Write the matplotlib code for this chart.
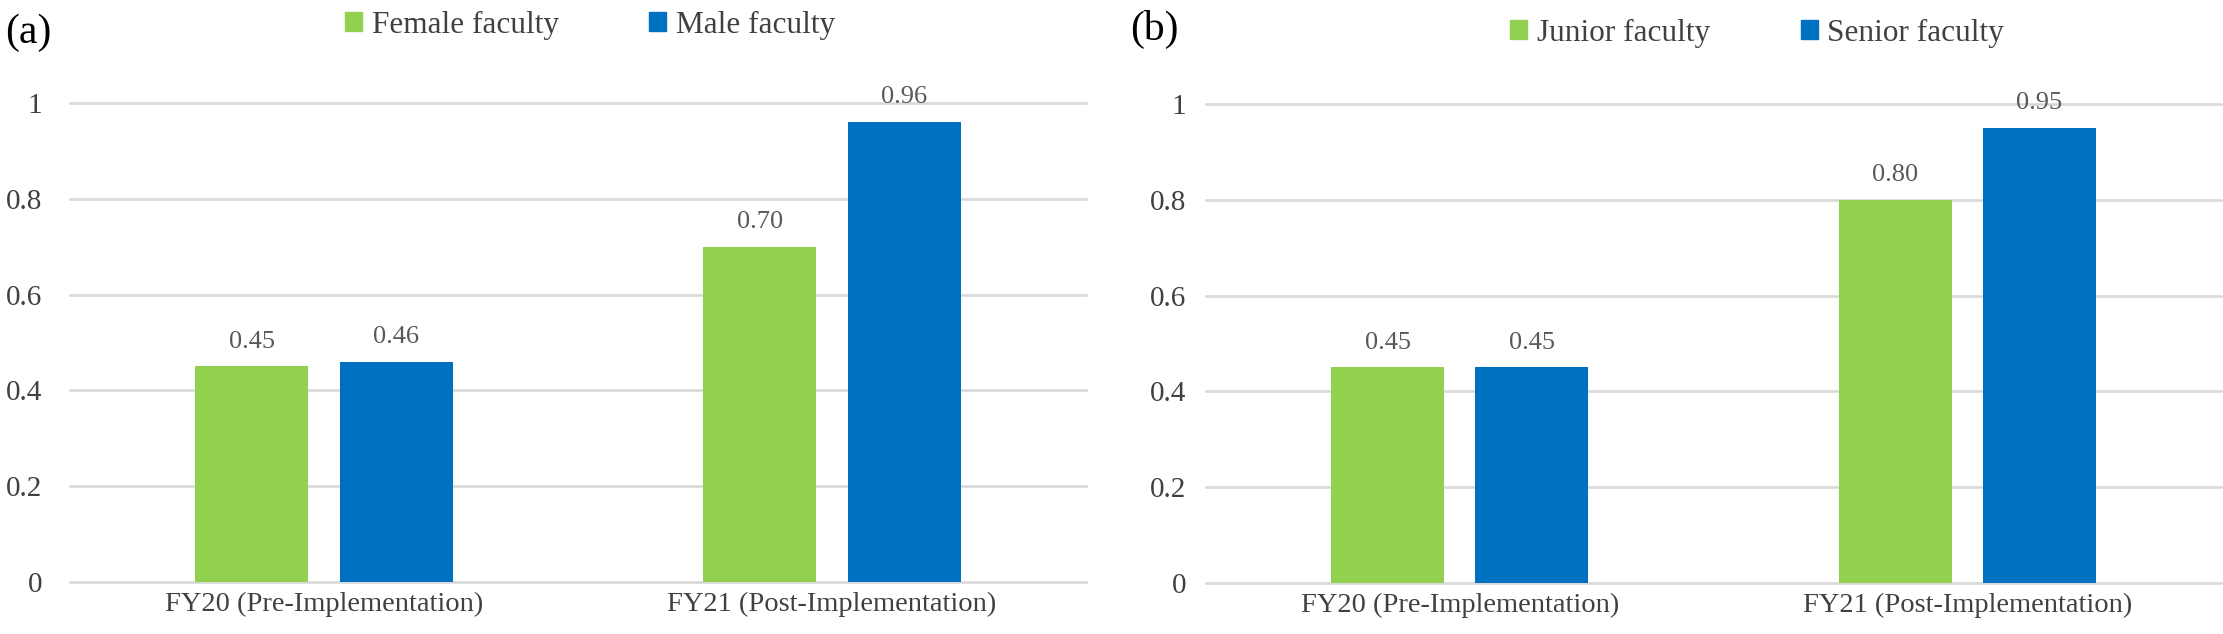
import numpy as np
import matplotlib
matplotlib.use('Agg')
import matplotlib.pyplot as plt
from matplotlib.patches import Patch

plt.rcParams['font.family'] = ['Liberation Serif', 'DejaVu Serif']

categories = ['FY20 (Pre-Implementation)', 'FY21 (Post-Implementation)']

# panel (a)
female = [0.45, 0.70]
male = [0.46, 0.96]
# panel (b)
junior = [0.45, 0.80]
senior = [0.45, 0.95]

panels = [
    ('(a)', ['Female faculty', 'Male faculty'], [female, male]),
    ('(b)', ['Junior faculty', 'Senior faculty'], [junior, senior]),
]

green = '#92D050'
blue = '#0070C0'
grid_c = '#D9D9D9'
text_c = '#404040'
val_c = '#595959'

W, H = 2223, 634
fig = plt.figure(figsize=(W / 100, H / 100), dpi=100)

# axes boxes in pixels: left, right, y of 0, y of 1
boxes = [(70, 1086, 582, 103), (1206, 2221, 583, 104)]
ypads = [20, 14]
label_pos = [(5, 13), (1130, 10)]
legend_pos = [(590, 25), (1757, 33)]

x = np.arange(len(categories))
w = 0.222
off = 0.142

for i, (tag, names, series) in enumerate(panels):
    l, r, y0, y1 = boxes[i]
    ax = fig.add_axes([l / W, (H - y0) / H, (r - l) / W, (y0 - y1) / H])
    bars1 = ax.bar(x - off, series[0], w, color=green, zorder=3)
    bars2 = ax.bar(x + off, series[1], w, color=blue, zorder=3)
    for bars in (bars1, bars2):
        for b in bars:
            ax.annotate(f'{b.get_height():.2f}', (b.get_x() + b.get_width() / 2, b.get_height()),
                        xytext=(0, 10), textcoords='offset points', ha='center', va='bottom',
                        fontsize=19, color=val_c, annotation_clip=False)
    ax.set_xlim(-0.5, 1.5)
    ax.set_ylim(0, 1)
    ax.set_yticks([0, 0.2, 0.4, 0.6, 0.8, 1])
    ax.set_yticklabels(['0', '0.2', '0.4', '0.6', '0.8', '1'])
    ax.set_xticks(x)
    ax.set_xticklabels(categories)
    ax.tick_params(axis='y', length=0, pad=ypads[i], labelsize=21, labelcolor=text_c)
    ax.tick_params(axis='x', length=0, pad=7, labelsize=20.5, labelcolor=text_c)
    ax.grid(axis='y', color=grid_c, linewidth=1.9, zorder=0)
    ax.set_axisbelow(True)
    for s in ax.spines.values():
        s.set_visible(False)
    for gl in ax.get_ygridlines():
        gl.set_clip_on(False)

    fig.text(label_pos[i][0] / W, 1 - label_pos[i][1] / H, tag, fontsize=30,
             color='black', ha='left', va='top')

    handles = [Patch(color=green), Patch(color=blue)]
    fig.legend(handles, names, loc='center',
               bbox_to_anchor=(legend_pos[i][0] / W, 1 - legend_pos[i][1] / H),
               ncol=2, frameon=False, fontsize=22.5, labelcolor=text_c,
               handlelength=0.55, handleheight=0.55, handletextpad=0.3,
               columnspacing=2.9, borderpad=0, borderaxespad=0)

fig.savefig('out.png', dpi=100)
